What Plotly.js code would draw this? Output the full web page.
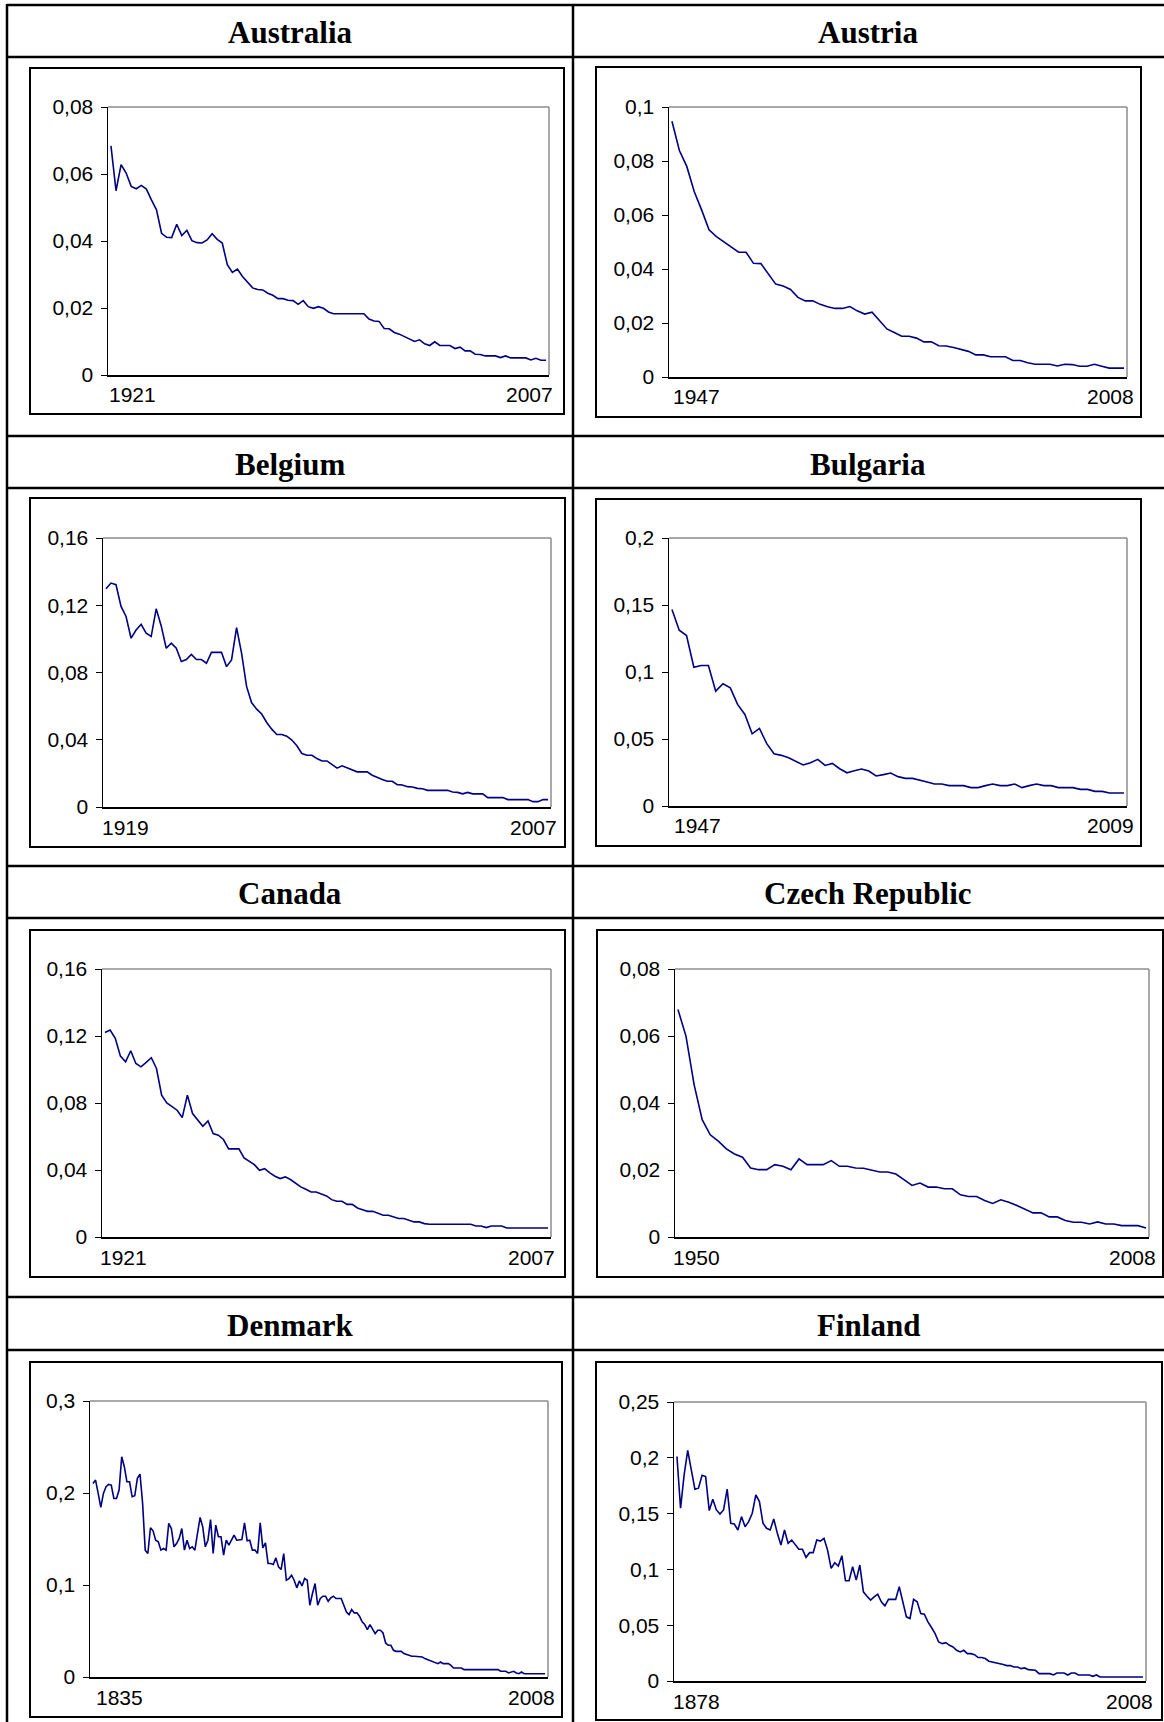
<!DOCTYPE html>
<html><head><meta charset="utf-8">
<script src="https://cdn.plot.ly/plotly-3.0.1.min.js"></script>
<style>html,body{margin:0;padding:0;background:#fff;}#chart{width:1164px;height:1722px;}</style>
</head><body><div id="chart"></div>
<script>
// ---------------- DATA ----------------
const countries = ["Australia", "Austria", "Belgium", "Bulgaria", "Canada", "Czech Republic", "Denmark", "Finland"];
const startYears = [1921, 1947, 1919, 1947, 1921, 1950, 1835, 1878];
const endYears   = [2007, 2008, 2007, 2009, 2007, 2008, 2008, 2008];

const australia = [
 0.0684,0.0550,0.0628,0.0603,0.0563,0.0556,0.0566,0.0555,0.0523,0.0493,
 0.0423,0.0411,0.0410,0.0450,0.0416,0.0432,0.0401,0.0395,0.0394,0.0403,
 0.0422,0.0405,0.0394,0.0329,0.0306,0.0316,0.0294,0.0276,0.0260,0.0255,
 0.0254,0.0244,0.0238,0.0228,0.0228,0.0223,0.0222,0.0211,0.0222,0.0204,
 0.0199,0.0204,0.0199,0.0188,0.0183,0.0183,0.0183,0.0183,0.0183,0.0183,
 0.0183,0.0167,0.0161,0.0160,0.0139,0.0138,0.0127,0.0122,0.0114,0.0107,
 0.0100,0.0105,0.0093,0.0088,0.0099,0.0088,0.0088,0.0088,0.0079,0.0083,
 0.0072,0.0072,0.0062,0.0061,0.0057,0.0057,0.0057,0.0052,0.0057,0.0051,
 0.0051,0.0051,0.0051,0.0045,0.0050,0.0044,0.0044];
const austria = [
 0.0947,0.0839,0.0780,0.0687,0.0619,0.0545,0.0520,0.0501,0.0480,0.0462,
 0.0462,0.0421,0.0420,0.0384,0.0344,0.0337,0.0324,0.0295,0.0282,0.0282,
 0.0269,0.0260,0.0254,0.0254,0.0261,0.0245,0.0233,0.0240,0.0210,0.0178,
 0.0165,0.0151,0.0151,0.0144,0.0130,0.0130,0.0116,0.0115,0.0109,0.0103,
 0.0095,0.0082,0.0082,0.0075,0.0075,0.0075,0.0061,0.0061,0.0053,0.0047,
 0.0047,0.0047,0.0041,0.0047,0.0046,0.0040,0.0040,0.0047,0.0040,0.0033,
 0.0033,0.0033];
const belgium = [
 0.1298,0.1332,0.1322,0.1193,0.1133,0.1004,0.1053,0.1087,0.1034,0.1014,
 0.1179,0.1077,0.0944,0.0974,0.0944,0.0865,0.0877,0.0908,0.0877,0.0877,
 0.0855,0.0920,0.0920,0.0920,0.0835,0.0875,0.1067,0.0914,0.0716,0.0620,
 0.0582,0.0553,0.0503,0.0463,0.0431,0.0431,0.0421,0.0398,0.0364,0.0318,
 0.0308,0.0308,0.0288,0.0274,0.0274,0.0254,0.0231,0.0245,0.0233,0.0223,
 0.0209,0.0209,0.0209,0.0189,0.0175,0.0163,0.0153,0.0153,0.0133,0.0131,
 0.0121,0.0119,0.0111,0.0109,0.0099,0.0099,0.0099,0.0099,0.0099,0.0089,
 0.0087,0.0078,0.0087,0.0078,0.0078,0.0078,0.0056,0.0056,0.0056,0.0056,
 0.0044,0.0044,0.0044,0.0044,0.0044,0.0032,0.0032,0.0044,0.0044];
const bulgaria = [
 0.1466,0.1312,0.1272,0.1036,0.1048,0.1048,0.0857,0.0912,0.0882,0.0758,
 0.0683,0.0539,0.0579,0.0465,0.0390,0.0378,0.0360,0.0335,0.0306,0.0323,
 0.0348,0.0303,0.0318,0.0278,0.0248,0.0263,0.0276,0.0261,0.0224,0.0234,
 0.0246,0.0219,0.0206,0.0206,0.0194,0.0179,0.0164,0.0164,0.0152,0.0152,
 0.0152,0.0137,0.0137,0.0152,0.0164,0.0152,0.0152,0.0164,0.0137,0.0152,
 0.0164,0.0152,0.0152,0.0137,0.0137,0.0137,0.0124,0.0124,0.0109,0.0109,
 0.0097,0.0097,0.0097];
const canada = [
 0.1221,0.1235,0.1186,0.1080,0.1046,0.1112,0.1036,0.1016,0.1042,0.1070,
 0.1006,0.0847,0.0801,0.0777,0.0757,0.0713,0.0847,0.0737,0.0701,0.0661,
 0.0693,0.0618,0.0608,0.0582,0.0526,0.0526,0.0526,0.0472,0.0454,0.0432,
 0.0398,0.0408,0.0383,0.0363,0.0349,0.0359,0.0343,0.0319,0.0299,0.0285,
 0.0269,0.0269,0.0259,0.0245,0.0223,0.0213,0.0213,0.0195,0.0195,0.0173,
 0.0163,0.0153,0.0153,0.0143,0.0130,0.0130,0.0120,0.0110,0.0110,0.0100,
 0.0090,0.0090,0.0080,0.0076,0.0076,0.0076,0.0076,0.0076,0.0076,0.0076,
 0.0076,0.0076,0.0066,0.0066,0.0056,0.0066,0.0066,0.0066,0.0054,0.0054,
 0.0054,0.0054,0.0054,0.0054,0.0054,0.0054,0.0054];
const czech = [
 0.0679,0.0599,0.0455,0.0350,0.0305,0.0286,0.0263,0.0248,0.0238,0.0206,
 0.0201,0.0201,0.0216,0.0211,0.0201,0.0233,0.0216,0.0216,0.0216,0.0228,
 0.0211,0.0211,0.0206,0.0205,0.0199,0.0194,0.0194,0.0188,0.0171,0.0154,
 0.0161,0.0149,0.0149,0.0144,0.0144,0.0126,0.0121,0.0121,0.0109,0.0100,
 0.0111,0.0104,0.0094,0.0084,0.0072,0.0072,0.0060,0.0060,0.0049,0.0044,
 0.0044,0.0039,0.0045,0.0039,0.0039,0.0034,0.0034,0.0034,0.0027];
const denmark = [
 0.2104,0.2140,0.1995,0.1843,0.1995,0.2068,0.2093,0.2086,0.1941,0.1941,
 0.2032,0.2394,0.2286,0.2122,0.2122,0.1959,0.1970,0.2159,0.2206,0.1887,
 0.1379,0.1342,0.1622,0.1589,0.1487,0.1469,0.1379,0.1397,0.1379,0.1669,
 0.1614,0.1415,0.1451,0.1506,0.1614,0.1379,0.1487,0.1397,0.1415,0.1379,
 0.1560,0.1734,0.1633,0.1415,0.1487,0.1712,0.1342,0.1651,0.1524,0.1524,
 0.1324,0.1487,0.1433,0.1487,0.1542,0.1487,0.1487,0.1495,0.1676,0.1480,
 0.1487,0.1379,0.1379,0.1342,0.1676,0.1404,0.1458,0.1234,0.1234,0.1223,
 0.1295,0.1197,0.1168,0.1342,0.1052,0.1070,0.1107,0.1052,0.0969,0.1045,
 0.0990,0.1070,0.1052,0.0780,0.0907,0.1016,0.0780,0.0853,0.0878,0.0878,
 0.0824,0.0860,0.0878,0.0853,0.0853,0.0853,0.0780,0.0707,0.0678,0.0733,
 0.0697,0.0697,0.0660,0.0599,0.0570,0.0515,0.0570,0.0526,0.0472,0.0508,
 0.0508,0.0479,0.0370,0.0345,0.0345,0.0290,0.0279,0.0279,0.0279,0.0254,
 0.0243,0.0236,0.0225,0.0225,0.0225,0.0218,0.0218,0.0200,0.0189,0.0181,
 0.0163,0.0152,0.0145,0.0163,0.0145,0.0145,0.0145,0.0127,0.0098,0.0098,
 0.0098,0.0098,0.0080,0.0080,0.0080,0.0080,0.0080,0.0080,0.0080,0.0080,
 0.0080,0.0080,0.0080,0.0080,0.0080,0.0080,0.0062,0.0062,0.0062,0.0044,
 0.0054,0.0062,0.0044,0.0036,0.0054,0.0036,0.0036,0.0036,0.0036,0.0036,
 0.0036,0.0036,0.0036,0.0036];
const finland = [
 0.2012,0.1548,0.1847,0.2066,0.1892,0.1719,0.1728,0.1844,0.1832,0.1527,
 0.1629,0.1533,0.1497,0.1533,0.1719,0.1413,0.1407,0.1353,0.1473,0.1383,
 0.1428,0.1503,0.1668,0.1608,0.1413,0.1368,0.1353,0.1452,0.1323,0.1219,
 0.1353,0.1234,0.1263,0.1219,0.1180,0.1180,0.1108,0.1150,0.1150,0.1263,
 0.1254,0.1278,0.1174,0.1009,0.1060,0.1030,0.1123,0.0898,0.0898,0.1024,
 0.0904,0.1039,0.0799,0.0760,0.0725,0.0754,0.0778,0.0710,0.0674,0.0731,
 0.0731,0.0731,0.0844,0.0710,0.0575,0.0560,0.0731,0.0710,0.0605,0.0599,
 0.0530,0.0479,0.0425,0.0350,0.0335,0.0344,0.0320,0.0305,0.0275,0.0260,
 0.0275,0.0245,0.0245,0.0236,0.0210,0.0210,0.0201,0.0177,0.0171,0.0165,
 0.0156,0.0147,0.0138,0.0138,0.0126,0.0126,0.0111,0.0117,0.0102,0.0102,
 0.0096,0.0066,0.0066,0.0066,0.0066,0.0054,0.0072,0.0072,0.0072,0.0054,
 0.0072,0.0072,0.0054,0.0054,0.0054,0.0054,0.0042,0.0054,0.0036,0.0036,
 0.0036,0.0036,0.0036,0.0036,0.0036,0.0036,0.0036,0.0036,0.0036,0.0036,
 0.0036];
const seriesValues = [australia, austria, belgium, bulgaria, canada, czech, denmark, finland];

// y-axis tick values and labels
const ticksAustralia = [0, 0.02, 0.04, 0.06, 0.08];
const labelsAustralia = ["0", "0,02", "0,04", "0,06", "0,08"];
const ticksAustria = [0, 0.02, 0.04, 0.06, 0.08, 0.1];
const labelsAustria = ["0", "0,02", "0,04", "0,06", "0,08", "0,1"];
const ticksBelgium = [0, 0.04, 0.08, 0.12, 0.16];
const labelsBelgium = ["0", "0,04", "0,08", "0,12", "0,16"];
const ticksBulgaria = [0, 0.05, 0.1, 0.15, 0.2];
const labelsBulgaria = ["0", "0,05", "0,1", "0,15", "0,2"];
const ticksCanada = [0, 0.04, 0.08, 0.12, 0.16];
const labelsCanada = ["0", "0,04", "0,08", "0,12", "0,16"];
const ticksCzech = [0, 0.02, 0.04, 0.06, 0.08];
const labelsCzech = ["0", "0,02", "0,04", "0,06", "0,08"];
const ticksDenmark = [0, 0.1, 0.2, 0.3];
const labelsDenmark = ["0", "0,1", "0,2", "0,3"];
const ticksFinland = [0, 0.05, 0.1, 0.15, 0.2, 0.25];
const labelsFinland = ["0", "0,05", "0,1", "0,15", "0,2", "0,25"];
const tickVals = [ticksAustralia, ticksAustria, ticksBelgium, ticksBulgaria, ticksCanada, ticksCzech, ticksDenmark, ticksFinland];
const tickLabels = [labelsAustralia, labelsAustria, labelsBelgium, labelsBulgaria, labelsCanada, labelsCzech, labelsDenmark, labelsFinland];

// ---------------- LAYOUT GEOMETRY (pixels) ----------------
const W = 1164, H = 1722;
// plot areas [x0, x1, y0(top), y1(bottom)]
const plotBoxes = [
  [108, 549, 107, 375], [669, 1127, 107, 377],
  [103, 551, 538, 807], [669, 1127, 538, 806],
  [102, 551, 969, 1237], [675, 1149, 969, 1237],
  [90, 548, 1401, 1677], [674, 1146, 1402, 1681]
];
// chart frames [x0, x1, y0, y1]
const frames = [
  [30, 564, 68, 414], [596, 1141, 67, 417],
  [30, 565, 498, 847], [596, 1141, 499, 846],
  [30, 565, 930, 1277], [597, 1163, 930, 1277],
  [30, 562, 1362, 1717], [596, 1162, 1362, 1720]
];
// year label shifts [left, right]
const yearShift = [[-1, 6], [2, 9], [-3, 8], [3, 9], [-4, 6], [-4, 9], [4, 9], [-3, 9]];
const titleRows = [[5, 57], [436, 488], [866, 918], [1297, 1350]];
const colCenters = [290, 868];

const px = x => x / W;
const py = y => 1 - y / H;
const labelFont = {family: 'Liberation Sans, Arial, sans-serif', size: 21, color: '#000'};

const traces = [], shapes = [], annotations = [];
const layout = {
  width: W, height: H, margin: {l: 0, r: 0, t: 0, b: 0},
  paper_bgcolor: '#fff', plot_bgcolor: '#fff', showlegend: false,
  font: {family: 'Liberation Sans, Arial, sans-serif', color: '#000', size: 21}
};

seriesValues.forEach((vals, i) => {
  const n = i + 1;
  const xa = 'x' + (n === 1 ? '' : n), ya = 'y' + (n === 1 ? '' : n);
  const years = vals.map((v, k) => startYears[i] + k);
  traces.push({
    x: years, y: vals, xaxis: xa, yaxis: ya, type: 'scatter', mode: 'lines',
    line: {color: '#000080', width: 1.6}, hoverinfo: 'skip'
  });
  const b = plotBoxes[i];
  const span = endYears[i] - startYears[i];
  const pxPerYear = (b[1] - b[0]) / span;
  const pad = 3 / pxPerYear;
  const ymax = tickVals[i][tickVals[i].length - 1];
  layout['xaxis' + (n === 1 ? '' : n)] = {
    domain: [px(b[0]), px(b[1])], anchor: ya,
    range: [startYears[i] - pad, endYears[i] + pad],
    showline: true, linecolor: '#000', linewidth: 1.5,
    showticklabels: false, ticks: '', showgrid: false, zeroline: false, fixedrange: true
  };
  layout['yaxis' + (n === 1 ? '' : n)] = {
    domain: [py(b[3]), py(b[2])], anchor: xa, range: [0, ymax],
    tickvals: tickVals[i], ticktext: tickLabels[i],
    ticks: 'outside', ticklen: 6, tickcolor: '#000', tickwidth: 1,
    ticklabelstandoff: 3,
    showline: true, linecolor: '#000', linewidth: 1.5,
    showgrid: false, zeroline: false, fixedrange: true,
    tickfont: labelFont
  };
  // gray plot-area border (top and right)
  shapes.push({type: 'line', xref: xa + ' domain', yref: ya + ' domain', x0: 0, x1: 1, y0: 1, y1: 1,
    line: {color: '#8c8c8c', width: 1.5}, layer: 'below'});
  shapes.push({type: 'line', xref: xa + ' domain', yref: ya + ' domain', x0: 1, x1: 1, y0: 0, y1: 1,
    line: {color: '#8c8c8c', width: 1.5}, layer: 'below'});
  // chart frame
  const f = frames[i];
  shapes.push({type: 'rect', xref: 'paper', yref: 'paper', x0: px(f[0]), x1: px(f[1]), y0: py(f[3]), y1: py(f[2]),
    line: {color: '#000', width: 2}, fillcolor: 'rgba(0,0,0,0)'});
  // year labels at both ends of the category axis
  annotations.push({xref: xa + ' domain', yref: ya + ' domain', x: 0, y: 0, xanchor: 'left', yanchor: 'middle',
    xshift: yearShift[i][0], yshift: -20, text: String(startYears[i]), showarrow: false, font: labelFont});
  annotations.push({xref: xa + ' domain', yref: ya + ' domain', x: 1, y: 0, xanchor: 'right', yanchor: 'middle',
    xshift: yearShift[i][1], yshift: -20, text: String(endYears[i]), showarrow: false, font: labelFont});
  // country title
  const r = titleRows[Math.floor(i / 2)];
  annotations.push({xref: 'paper', yref: 'paper', x: px(colCenters[i % 2]), y: py((r[0] + r[1]) / 2 + 2),
    xanchor: 'center', yanchor: 'middle', text: '<b>' + countries[i] + '</b>', showarrow: false,
    font: {family: 'Liberation Serif, Times New Roman, serif', size: 31, color: '#000'}});
});

// table lines
const tableH = [5, 57, 436, 488, 866, 918, 1297, 1350];
tableH.forEach(y => shapes.push({type: 'line', xref: 'paper', yref: 'paper', x0: px(7), x1: 1, y0: py(y), y1: py(y),
  line: {color: '#000', width: 2.5}}));
[7, 573].forEach(x => shapes.push({type: 'line', xref: 'paper', yref: 'paper', x0: px(x), x1: px(x), y0: py(4), y1: 0,
  line: {color: '#000', width: 2.5}}));

layout.shapes = shapes;
layout.annotations = annotations;
Plotly.newPlot('chart', traces, layout, {staticPlot: true, displayModeBar: false});
</script></body></html>
